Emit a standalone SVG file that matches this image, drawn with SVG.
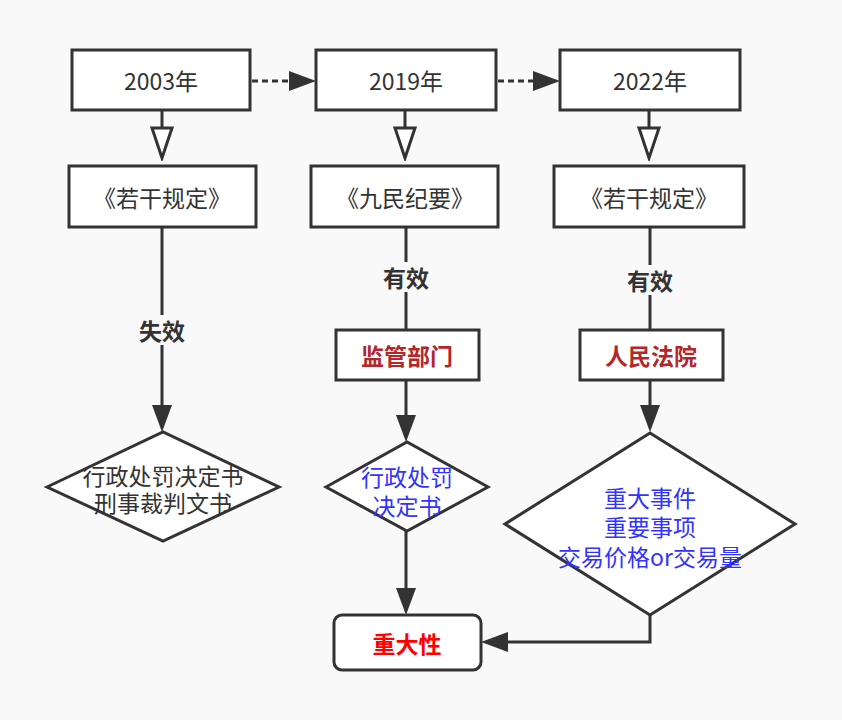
<svg xmlns="http://www.w3.org/2000/svg" width="842" height="720" viewBox="0 0 842 720">
<defs>
<style>
.box{fill:#ffffff;stroke:#333333;stroke-width:3}
.rbox{fill:#ffffff;stroke:#333333;stroke-width:3}
.edge{fill:none;stroke:#333333;stroke-width:3}
.dot{stroke-dasharray:6 4}
text{font-family:"Noto Sans CJK SC","Noto Sans",sans-serif;font-size:23px;text-anchor:middle;dominant-baseline:central}
.t{fill:#333333}
.b{font-weight:bold}
.dr{fill:#b5262b;font-weight:bold}
.red{fill:#ff0000;font-weight:bold}
.blue{fill:#3333ff}
.lbl{fill:#333333;font-weight:bold}
.lblbg{fill:#f9f9f9}
</style>
<marker id="fill" markerUnits="userSpaceOnUse" markerWidth="27" markerHeight="20" viewBox="0 0 27 20" refX="0" refY="10" orient="auto">
<path d="M0,0 L27,10 L0,20 Z" fill="#333333"/>
</marker>
<marker id="open" markerUnits="userSpaceOnUse" markerWidth="36" markerHeight="26" viewBox="-3 -3 36 26" refX="0" refY="10" orient="auto">
<path d="M0,0 L30,10 L0,20 Z" fill="#ffffff" stroke="#333333" stroke-width="3" stroke-linejoin="miter"/>
</marker>
</defs>
<rect width="842" height="720" fill="#f9f9f9"/>

<g id="connectors">
<line class="edge dot" x1="252" y1="81" x2="289" y2="81" marker-end="url(#fill)"/>
<line class="edge dot" x1="498" y1="81" x2="533" y2="81" marker-end="url(#fill)"/>
<line class="edge" x1="162" y1="110" x2="162" y2="128" marker-end="url(#open)"/>
<line class="edge" x1="405" y1="110" x2="405" y2="128" marker-end="url(#open)"/>
<line class="edge" x1="649" y1="110" x2="649" y2="128" marker-end="url(#open)"/>
<line class="edge" x1="162" y1="227" x2="162" y2="405" marker-end="url(#fill)"/>
<line class="edge" x1="406" y1="227" x2="406" y2="330"/>
<line class="edge" x1="406" y1="380" x2="406" y2="415" marker-end="url(#fill)"/>
<line class="edge" x1="406" y1="531" x2="406" y2="588" marker-end="url(#fill)"/>
<line class="edge" x1="650" y1="227" x2="650" y2="330"/>
<line class="edge" x1="650" y1="380" x2="650" y2="405" marker-end="url(#fill)"/>
<polyline class="edge" points="650,615 650,642 508,642" marker-end="url(#fill)"/>
</g>

<g id="label-shixiao">
<rect class="lblbg" x="137" y="315" width="50" height="30"/>
<text class="lbl" x="162" y="330">失效</text>
</g>
<g id="label-youxiao-1">
<rect class="lblbg" x="381" y="262" width="50" height="30"/>
<text class="lbl" x="406" y="277">有效</text>
</g>
<g id="label-youxiao-2">
<rect class="lblbg" x="625" y="265" width="50" height="30"/>
<text class="lbl" x="650" y="280">有效</text>
</g>

<g id="y2003">
<rect class="box" x="72" y="50" width="178" height="60"/>
<text class="t" x="161" y="80">2003年</text>
</g>
<g id="y2019">
<rect class="box" x="316" y="50" width="180" height="60"/>
<text class="t" x="406" y="80">2019年</text>
</g>
<g id="y2022">
<rect class="box" x="560" y="50" width="180" height="60"/>
<text class="t" x="650" y="80">2022年</text>
</g>

<g id="doc-2003">
<rect class="box" x="69" y="166" width="187" height="61"/>
<text class="t" x="162" y="197">《若干规定》</text>
</g>
<g id="doc-2019">
<rect class="box" x="311" y="166" width="187" height="61"/>
<text class="t" x="405" y="197">《九民纪要》</text>
</g>
<g id="doc-2022">
<rect class="box" x="554" y="166" width="190" height="61"/>
<text class="t" x="649" y="197">《若干规定》</text>
</g>

<g id="regulator">
<rect class="box" x="336" y="330" width="143" height="50"/>
<text class="dr" x="407" y="355">监管部门</text>
</g>
<g id="court">
<rect class="box" x="580" y="330" width="143" height="50"/>
<text class="dr" x="651" y="355">人民法院</text>
</g>

<g id="diamond-invalid">
<polygon class="box" points="47,487 163,432 279,487 163,541"/>
<text class="t" x="163" y="475">行政处罚决定书</text>
<text class="t" x="163" y="502">刑事裁判文书</text>
</g>
<g id="diamond-penalty">
<polygon class="box" points="326,487 407,442 488,487 407,531"/>
<text class="blue" x="407" y="476">行政处罚</text>
<text class="blue" x="407" y="505">决定书</text>
</g>
<g id="diamond-events">
<polygon class="box" points="505,524 650,433 795,524 650,615"/>
<text class="blue" x="650" y="497">重大事件</text>
<text class="blue" x="650" y="526">重要事项</text>
<text class="blue" x="650" y="556">交易价格or交易量</text>
</g>

<g id="materiality">
<rect class="rbox" x="334" y="615" width="147" height="55" rx="8" ry="8"/>
<text class="red" x="407" y="643">重大性</text>
</g>
</svg>
